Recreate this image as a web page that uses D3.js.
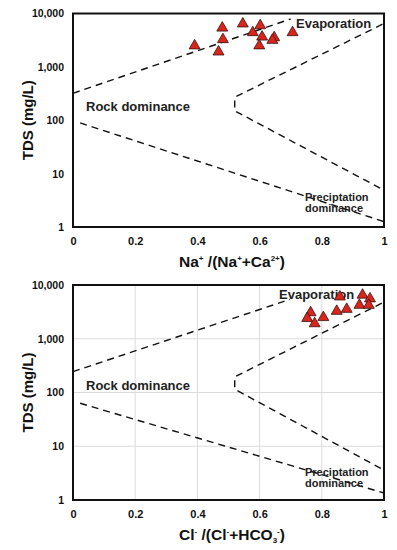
<!DOCTYPE html>
<html><head><meta charset="utf-8">
<script src="https://cdn.jsdelivr.net/npm/d3@7"></script>
<style>
html,body{margin:0;padding:0;background:#fff;}
svg{display:block;font-family:"Liberation Sans",Arial,sans-serif;}
</style></head>
<body><svg id="chart" width="397" height="550"></svg>
<script>
// ---- Data ----
const xTicks = [0, 0.2, 0.4, 0.6, 0.8, 1];
const xTickLabels = ["0", "0.2", "0.4", "0.6", "0.8", "1"];
const yTicks = [1, 10, 100, 1000, 10000];
const yTickLabels = ["1", "10", "100", "1,000", "10,000"];

// Panel A: Na+/(Na+ + Ca2+) vs TDS
const naRatio = [0.48, 0.546, 0.602, 0.578, 0.608, 0.647, 0.641, 0.706, 0.482, 0.391, 0.468, 0.599];
const naTDS   = [5600, 6700, 6200, 4600, 3800, 3700, 3300, 4600, 3400, 2600, 2000, 2600];

// Panel B: Cl-/(Cl- + HCO3-) vs TDS
const clRatio = [0.858, 0.931, 0.955, 0.921, 0.951, 0.88, 0.848, 0.764, 0.805, 0.753, 0.777];
const clTDS   = [6300, 6800, 5800, 4400, 4400, 3700, 3400, 3200, 2600, 2500, 2000];

// Gibbs boundary lines [ratio, TDS]
const a_upperLeft = [[0, 320], [0.70, 7900]];
const a_rightCurve = [[0.995, 6300], [0.52, 270], [0.52, 150], [1.0, 4.9]];
const a_lowerLeft = [[0.023, 89], [1.0, 1.26]];
const b_upperLeft = [[0, 245], [0.698, 5400]];
const b_rightCurve = [[0.993, 4600], [0.52, 195], [0.52, 115], [1.0, 3.6]];
const b_lowerLeft = [[0.023, 63], [1.0, 1.35]];

const svg = d3.select("#chart");

function panel(cfg) {
  const x = d3.scaleLinear().domain([0, 1]).range([73, 384]);
  const y = d3.scaleLog().domain([1, 10000]).range([cfg.bottom, cfg.top]);
  const g = svg.append("g");

  if (cfg.grid) {
    g.append("g").selectAll("line.gx").data(xTicks.slice(1, -1)).join("line")
      .attr("x1", d => x(d)).attr("x2", d => x(d))
      .attr("y1", cfg.top).attr("y2", cfg.bottom)
      .attr("stroke", "#dcdcdc").attr("stroke-width", 1);
    g.append("g").selectAll("line.gy").data(yTicks.slice(1, -1)).join("line")
      .attr("x1", 73).attr("x2", 384)
      .attr("y1", d => y(d)).attr("y2", d => y(d))
      .attr("stroke", "#dcdcdc").attr("stroke-width", 1);
  }

  // axes (labels only)
  const xAxis = d3.axisBottom(x).tickValues(xTicks).tickFormat((d, i) => xTickLabels[i]).tickSize(0).tickPadding(10);
  const gx = g.append("g").attr("transform", `translate(0,${cfg.bottom})`).call(xAxis);
  gx.select(".domain").remove();
  gx.selectAll("text").attr("font-size", 11).attr("font-weight", "bold").attr("fill", "#111")
    .attr("font-family", "Liberation Sans, Arial, sans-serif");

  const yAxis = d3.axisLeft(y).tickValues(yTicks).tickFormat((d, i) => yTickLabels[i]).tickSize(0).tickPadding(9);
  const gy = g.append("g").attr("transform", `translate(73,0)`).call(yAxis);
  gy.select(".domain").remove();
  gy.selectAll("text").attr("font-size", 10.5).attr("font-weight", "bold").attr("fill", "#111")
    .attr("font-family", "Liberation Sans, Arial, sans-serif");

  // dashed boundary lines
  const line = d3.line().x(d => x(d[0])).y(d => y(d[1]));
  [cfg.upperLeft, cfg.rightCurve, cfg.lowerLeft].forEach(pts => {
    g.append("path").attr("d", line(pts)).attr("fill", "none")
      .attr("stroke", "#111").attr("stroke-width", 1.4).attr("stroke-dasharray", "7,5");
  });

  // labels
  const lbl = (t, px, py, anchor) => g.append("text").attr("x", px).attr("y", py)
    .attr("font-size", 13).attr("font-weight", "bold").attr("fill", "#222")
    .attr("text-anchor", anchor || "start").text(t);
  lbl("Evaporation", cfg.evapX, cfg.evapY);
  lbl("Rock dominance", 86, cfg.rockY);
  g.append("text").attr("x", 305).attr("y", cfg.precY - 1).attr("font-size", 11).attr("font-weight", "bold")
    .attr("fill", "#222").text("Preciptation");
  g.append("text").attr("x", 305).attr("y", cfg.precY + 10).attr("font-size", 11).attr("font-weight", "bold")
    .attr("fill", "#222").text("dominance");

  // points
  const tri = d3.symbol().type(d3.symbolTriangle).size(52);
  g.append("g").selectAll("path").data(cfg.xs.map((v, i) => [v, cfg.ys[i]])).join("path")
    .attr("d", tri)
    .attr("transform", d => `translate(${x(d[0])},${y(d[1]) + 1})`)
    .attr("fill", "#d8261c").attr("stroke", "#3a1010").attr("stroke-width", 0.8);

  // frame
  g.append("rect").attr("x", 73).attr("y", cfg.top).attr("width", 311).attr("height", cfg.bottom - cfg.top)
    .attr("fill", "none").attr("stroke", "#111").attr("stroke-width", 2);

  // y title
  g.append("text").attr("transform", `translate(33,${(cfg.top + cfg.bottom) / 2}) rotate(-90)`)
    .attr("text-anchor", "middle").attr("font-size", 15).attr("font-weight", "bold").attr("fill", "#111")
    .text("TDS (mg/L)");

  // x title
  const xt = g.append("text").attr("x", 232).attr("y", cfg.bottom + 40).attr("text-anchor", "middle")
    .attr("font-size", 15.5).attr("font-weight", "bold").attr("fill", "#111");
  cfg.xTitle.forEach(p => {
    const t = xt.append("tspan").text(p.t);
    if (p.sup) t.attr("font-size", 8).attr("baseline-shift", "6");
    if (p.sub) t.attr("font-size", 8).attr("baseline-shift", "-3");
  });
}

panel({
  top: 13.5, bottom: 227, grid: false,
  xs: naRatio, ys: naTDS,
  upperLeft: a_upperLeft, rightCurve: a_rightCurve, lowerLeft: a_lowerLeft,
  evapX: 296, evapY: 28, rockY: 111, precY: 202,
  xTitle: [{t: "Na"}, {t: "+", sup: true}, {t: " /(Na"}, {t: "+", sup: true}, {t: "+Ca"}, {t: "2+", sup: true}, {t: ")"}]
});

panel({
  top: 285, bottom: 500, grid: true,
  xs: clRatio, ys: clTDS,
  upperLeft: b_upperLeft, rightCurve: b_rightCurve, lowerLeft: b_lowerLeft,
  evapX: 279, evapY: 299, rockY: 390, precY: 477,
  xTitle: [{t: "Cl"}, {t: "-", sup: true}, {t: " /(Cl"}, {t: "-", sup: true}, {t: "+HCO"}, {t: "3", sub: true}, {t: "-", sup: true}, {t: ")"}]
});
</script></body></html>
